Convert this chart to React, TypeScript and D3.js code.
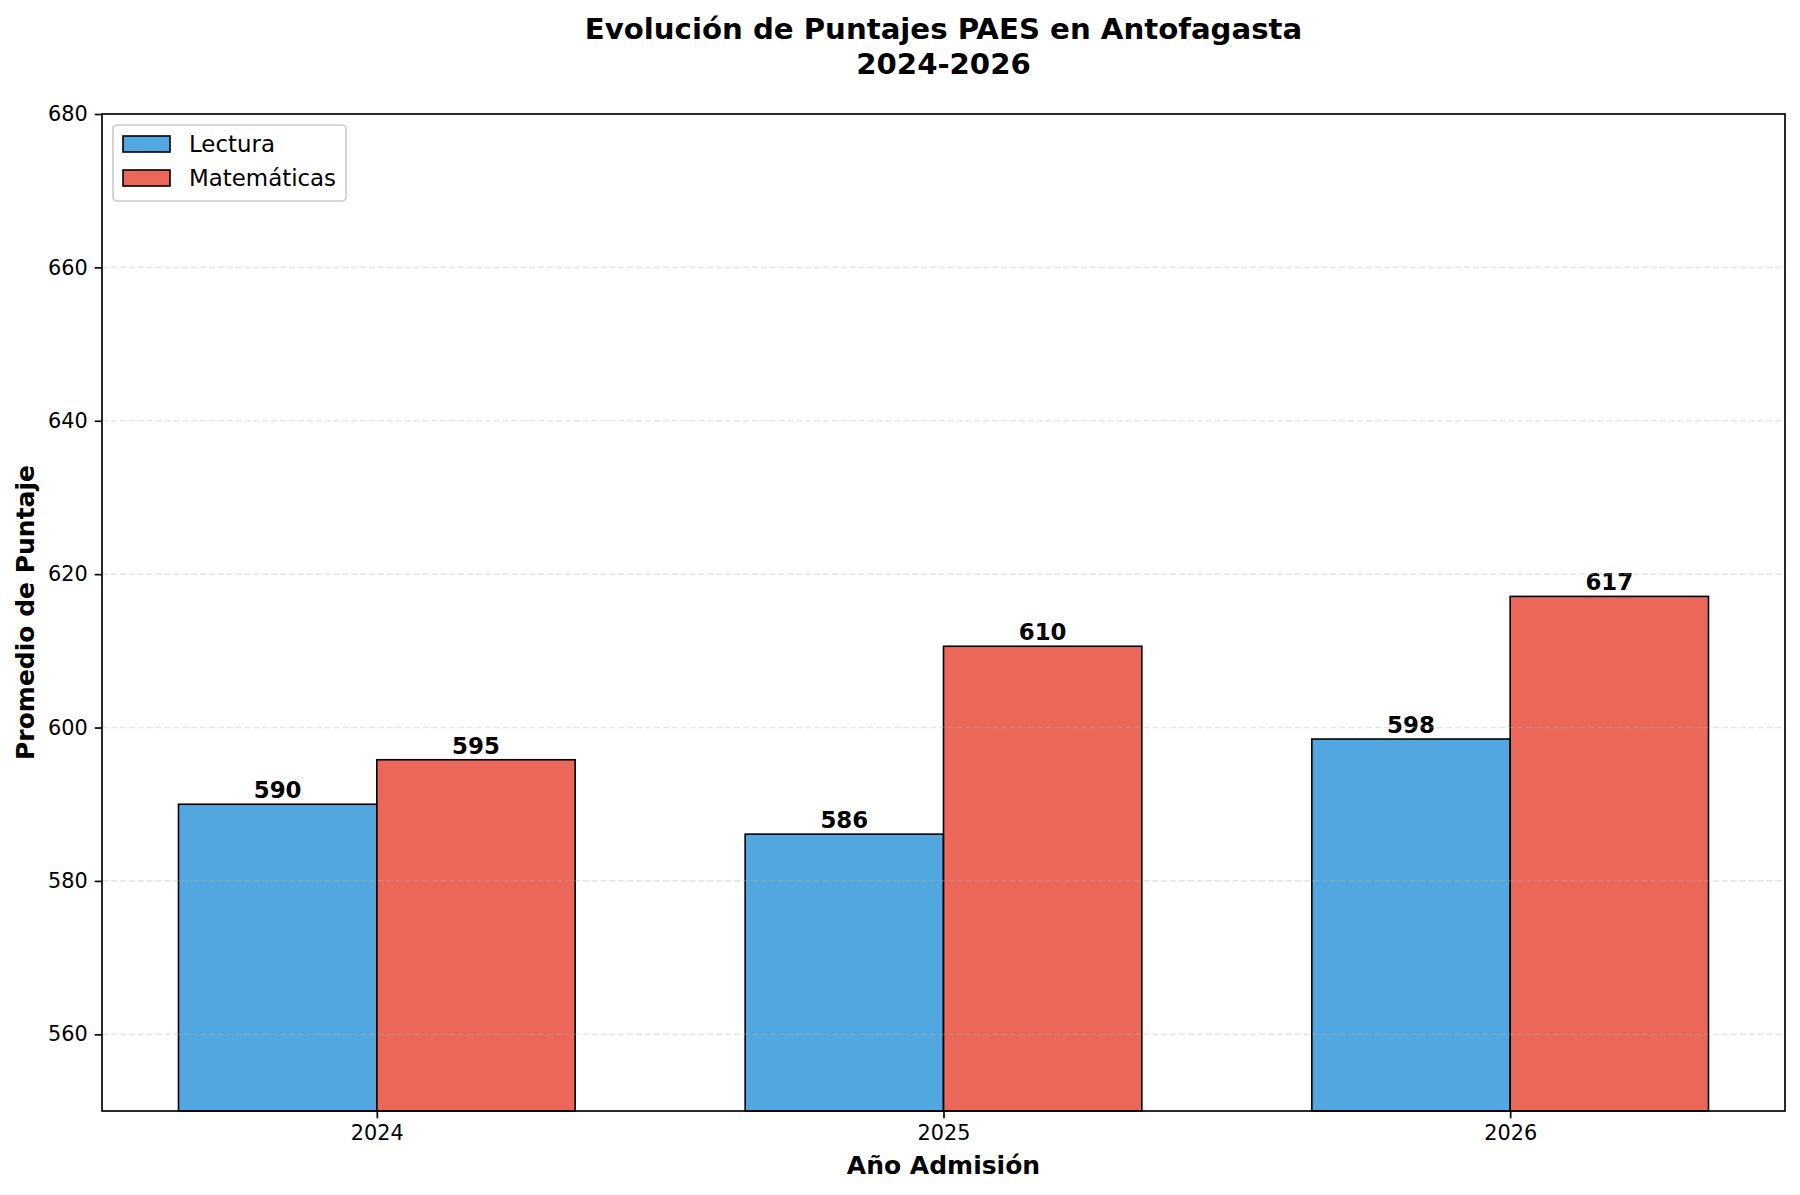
import { useRef, useEffect } from "react";
import * as d3 from "d3";

const years = [2024, 2025, 2026];
const lectura = [590.0, 586.1, 598.5];
const matematicas = [595.8, 610.6, 617.1];
const yTicks = [560, 580, 600, 620, 640, 660, 680];

const series = [
  { name: "Lectura", values: lectura, color: "#3498db" },
  { name: "Matemáticas", values: matematicas, color: "#e74c3c" },
];

export default function App() {
  const svgRef = useRef<SVGSVGElement>(null);

  useEffect(() => {
    if (!svgRef.current) return;

    const width = 1800;
    const height = 1195;
    const margin = { top: 114, right: 15, bottom: 84, left: 102 };
    const font = "DejaVu Sans, sans-serif";
    const barW = 0.35;

    const svg = d3.select(svgRef.current);
    svg.selectAll("*").remove();
    svg.attr("width", width).attr("height", height).attr("viewBox", `0 0 ${width} ${height}`);

    svg.append("rect").attr("width", width).attr("height", height).attr("fill", "#fff");

    const x = d3
      .scaleLinear()
      .domain([2023.515, 2026.485])
      .range([margin.left, width - margin.right]);

    const y = d3
      .scaleLinear()
      .domain([550, 680])
      .range([height - margin.bottom, margin.top]);

    const plot = svg.append("g");

    // bars
    series.forEach((s, si) => {
      const offset = si === 0 ? -barW / 2 : barW / 2;
      plot
        .selectAll(`rect.bar${si}`)
        .data(years)
        .join("rect")
        .attr("x", (d) => x(d + offset - barW / 2))
        .attr("y", (_d, i) => y(s.values[i]))
        .attr("width", x(barW) - x(0))
        .attr("height", (_d, i) => y(550) - y(s.values[i]))
        .attr("fill", s.color)
        .attr("fill-opacity", 0.85)
        .attr("stroke", "#000")
        .attr("stroke-width", 1.6);

      plot
        .selectAll(`text.lab${si}`)
        .data(years)
        .join("text")
        .attr("x", (d) => x(d + offset))
        .attr("y", (_d, i) => y(s.values[i]) - 6)
        .attr("text-anchor", "middle")
        .attr("font-family", font)
        .attr("font-size", 22.9)
        .attr("font-weight", "bold")
        .attr("fill", "#000")
        .text((_d, i) => `${Math.floor(s.values[i])}`);
    });

    // grid over bars
    plot
      .selectAll("line.grid")
      .data(yTicks.filter((t) => t < 680))
      .join("line")
      .attr("x1", margin.left)
      .attr("x2", width - margin.right)
      .attr("y1", (d) => y(d))
      .attr("y2", (d) => y(d))
      .attr("stroke", "#b0b0b0")
      .attr("stroke-opacity", 0.3)
      .attr("stroke-width", 1.67)
      .attr("stroke-dasharray", "6.2 2.7");

    // frame
    svg
      .append("rect")
      .attr("x", margin.left)
      .attr("y", margin.top)
      .attr("width", width - margin.left - margin.right)
      .attr("height", height - margin.top - margin.bottom)
      .attr("fill", "none")
      .attr("stroke", "#000")
      .attr("stroke-width", 1.67);

    // axes
    const yAxis = d3.axisLeft(y).tickValues(yTicks).tickSize(7.3).tickPadding(7).tickFormat(d3.format("d"));
    svg
      .append("g")
      .attr("transform", `translate(${margin.left},0)`)
      .call(yAxis)
      .call((g) => g.select(".domain").remove())
      .call((g) => g.selectAll(".tick line").attr("stroke", "#000").attr("stroke-width", 1.67))
      .call((g) =>
        g.selectAll(".tick text").attr("font-family", font).attr("font-size", 20.8).attr("fill", "#000")
      );

    const xAxis = d3.axisBottom(x).tickValues(years).tickSize(7.3).tickPadding(7).tickFormat(d3.format("d"));
    svg
      .append("g")
      .attr("transform", `translate(0,${height - margin.bottom})`)
      .call(xAxis)
      .call((g) => g.select(".domain").remove())
      .call((g) => g.selectAll(".tick line").attr("stroke", "#000").attr("stroke-width", 1.67))
      .call((g) =>
        g.selectAll(".tick text").attr("font-family", font).attr("font-size", 20.8).attr("fill", "#000")
      );

    const cx = (margin.left + width - margin.right) / 2;
    const cy = (margin.top + height - margin.bottom) / 2;

    // titles
    const title = svg
      .append("text")
      .attr("text-anchor", "middle")
      .attr("font-family", font)
      .attr("font-size", 29.2)
      .attr("font-weight", "bold")
      .attr("fill", "#000");
    title.append("tspan").attr("x", cx).attr("y", 39).text("Evolución de Puntajes PAES en Antofagasta");
    title.append("tspan").attr("x", cx).attr("y", 74).text("2024-2026");

    svg
      .append("text")
      .attr("x", cx)
      .attr("y", 1174)
      .attr("text-anchor", "middle")
      .attr("font-family", font)
      .attr("font-size", 25)
      .attr("font-weight", "bold")
      .text("Año Admisión");

    svg
      .append("text")
      .attr("transform", `translate(34,${cy}) rotate(-90)`)
      .attr("text-anchor", "middle")
      .attr("font-family", font)
      .attr("font-size", 25)
      .attr("font-weight", "bold")
      .text("Promedio de Puntaje");

    // legend
    const legend = svg.append("g").attr("transform", `translate(113,125)`);
    legend
      .append("rect")
      .attr("width", 233)
      .attr("height", 76)
      .attr("rx", 4)
      .attr("fill", "#fff")
      .attr("fill-opacity", 0.8)
      .attr("stroke", "#cccccc")
      .attr("stroke-width", 1.67);

    series.forEach((s, i) => {
      const row = legend.append("g").attr("transform", `translate(10,${11 + i * 34})`);
      row
        .append("rect")
        .attr("width", 47)
        .attr("height", 16)
        .attr("fill", s.color)
        .attr("fill-opacity", 0.85)
        .attr("stroke", "#000")
        .attr("stroke-width", 1.6);
      row
        .append("text")
        .attr("x", 66)
        .attr("y", 16)
        .attr("font-family", font)
        .attr("font-size", 22.9)
        .attr("fill", "#000")
        .text(s.name);
    });
  }, []);

  return <svg ref={svgRef} style={{ position: "absolute", left: 0, top: 0, display: "block" }} />;
}
